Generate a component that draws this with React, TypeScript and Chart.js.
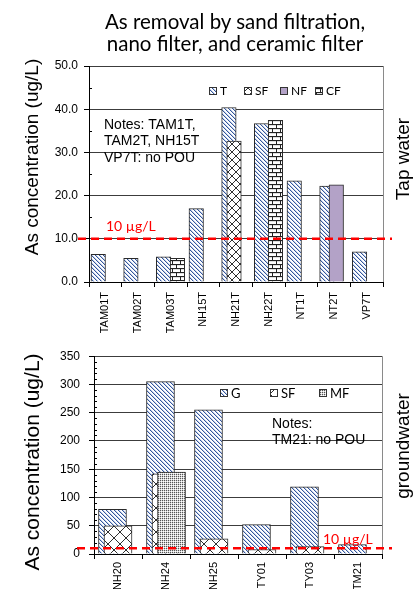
import React, { useEffect, useRef } from "react";
import { Chart, registerables } from "chart.js";

Chart.register(...registerables);

// ---------------- data ----------------
const TITLE_LINES = ["As removal by sand filtration,", "nano filter, and ceramic filter"];
const Y_TITLE = "As concentration (ug/L)";
const TAP_SIDE_LABEL = "Tap water";
const GW_SIDE_LABEL = "groundwater";

const TAP_CATEGORIES = ["TAM01T", "TAM02T", "TAM03T", "NH15T", "NH21T", "NH22T", "NT1T", "NT2T", "VP7T"];
const TAP_T = [6.4, 5.5, 5.8, 17.0, 40.4, 36.7, 23.4, 22.2, 7.0];
const TAP_SF: (number | null)[] = [null, null, null, null, 32.6, null, null, null, null];
const TAP_NF: (number | null)[] = [null, null, null, null, null, null, null, 22.5, null];
const TAP_CF: (number | null)[] = [null, null, 5.5, null, null, 37.4, null, null, null];
const TAP_Y_MAX = 50;
const TAP_Y_STEP = 10;
const TAP_NOTES = ["Notes: TAM1T,", "TAM2T, NH15T", "VP7T: no POU"];

const GW_CATEGORIES = ["NH20", "NH24", "NH25", "TY01", "TY03", "TM21"];
const GW_G = [79, 305, 255, 52, 119, 16.5];
const GW_SF: (number | null)[] = [50, 142, 27, 8, 13, null];
const GW_MF: (number | null)[] = [null, 145, null, null, null, null];
const GW_Y_MAX = 350;
const GW_Y_STEP = 50;
const GW_NOTES = ["Notes:", "TM21: no POU"];

const LIMIT_VALUE = 10;
const LIMIT_LABEL = "10 µg/L";

// ---------------- patterns ----------------
function tile(w: number, h: number, draw: (c: CanvasRenderingContext2D) => void): CanvasPattern {
  const cv = document.createElement("canvas");
  cv.width = w;
  cv.height = h;
  const c = cv.getContext("2d")!;
  draw(c);
  return c.createPattern(cv, "repeat")!;
}

function diagPattern() {
  const n = 4;
  return tile(n, n, (c) => {
    c.fillStyle = "#ffffff";
    c.fillRect(0, 0, n, n);
    for (let i = 0; i < n; i++) {
      c.fillStyle = "#36579a";
      c.fillRect(i, i, 1, 1);
      c.fillStyle = "#c2d0ec";
      c.fillRect((i + 1) % n, i, 1, 1);
    }
  });
}

function crossPattern(s: number) {
  return tile(s, s, (c) => {
    c.fillStyle = "#ffffff";
    c.fillRect(0, 0, s, s);
    c.fillStyle = "#303030";
    for (let i = 0; i < s; i++) {
      c.fillRect(i, i, 1, 1);
      c.fillRect(s - 1 - i, i, 1, 1);
    }
  });
}

function brickPattern() {
  return tile(8, 8, (c) => {
    c.fillStyle = "#ffffff";
    c.fillRect(0, 0, 8, 8);
    c.fillStyle = "#e0e0e0";
    c.fillRect(1, 1, 7, 1);
    c.fillRect(5, 5, 7, 1);
    c.fillRect(0, 5, 4, 1);
    c.fillStyle = "#222222";
    c.fillRect(0, 0, 8, 1);
    c.fillRect(0, 4, 8, 1);
    c.fillRect(0, 0, 1, 4);
    c.fillRect(4, 4, 1, 4);
  });
}

function dotPattern() {
  return tile(2, 2, (c) => {
    c.fillStyle = "#d4d4d4";
    c.fillRect(0, 0, 2, 2);
    c.fillStyle = "#555555";
    c.fillRect(0, 0, 1, 1);
    c.fillStyle = "#ffffff";
    c.fillRect(1, 1, 1, 1);
  });
}

// ---------------- plugins ----------------
const framePlugin = {
  id: "frame",
  beforeDatasetsDraw(chart: any, _a: any, o: any) {
    const { ctx, chartArea: a } = chart;
    const y = chart.scales.y;
    ctx.save();
    ctx.lineWidth = 1;
    ctx.strokeStyle = o.borderColor;
    const rx = Math.round(a.right) + 0.5;
    ctx.beginPath();
    ctx.moveTo(rx, a.top);
    ctx.lineTo(rx, a.bottom);
    ctx.stroke();
    ctx.strokeStyle = "#000";
    for (let v = o.minorStep; v < y.max; v += o.minorStep) {
      if (Math.abs(v % o.majorStep) < 1e-9) continue;
      const py = Math.round(y.getPixelForValue(v)) + 0.5;
      ctx.beginPath();
      ctx.moveTo(a.left, py);
      ctx.lineTo(a.left + o.minorLen, py);
      ctx.stroke();
    }
    ctx.restore();
  },
};

const overlayPlugin = {
  id: "overlay",
  afterDatasetsDraw(chart: any, _a: any, o: any) {
    const { ctx, chartArea: a } = chart;
    const y = chart.scales.y;
    ctx.save();
    // limit line
    const ly = y.getPixelForValue(o.limit.value);
    ctx.strokeStyle = o.limit.color;
    ctx.lineWidth = o.limit.width;
    ctx.setLineDash(o.limit.dash);
    ctx.beginPath();
    ctx.moveTo(a.left - o.limit.extendLeft, ly);
    ctx.lineTo(a.right + o.limit.extendRight, ly);
    ctx.stroke();
    ctx.setLineDash([]);
    ctx.fillStyle = o.limit.color;
    ctx.font = o.limit.font;
    ctx.textBaseline = "alphabetic";
    ctx.textAlign = "left";
    ctx.fillText(o.limit.label, a.left + o.limit.labelX, ly - o.limit.labelDy);
    // notes
    ctx.fillStyle = "#000";
    ctx.font = o.notes.font;
    o.notes.lines.forEach((t: string, i: number) => {
      ctx.fillText(t, a.left + o.notes.x, a.top + o.notes.y + i * o.notes.lineHeight);
    });
    // legend
    const L = o.legend;
    ctx.font = L.font;
    ctx.textBaseline = "middle";
    chart.data.datasets.forEach((ds: any, i: number) => {
      const bx = Math.round(a.left + L.x + i * L.gap);
      const by = Math.round(a.top + L.y - L.box / 2);
      ctx.fillStyle = ds.backgroundColor;
      ctx.fillRect(bx, by, L.box, L.box);
      ctx.strokeStyle = "#333";
      ctx.lineWidth = 1;
      ctx.strokeRect(bx + 0.5, by + 0.5, L.box - 1, L.box - 1);
      ctx.fillStyle = "#000";
      ctx.fillText(ds.label, bx + L.box + L.textGap, a.top + L.y + 0.5);
    });
    ctx.restore();
  },
};

// ---------------- chart builder ----------------
type Series = { label: string; values: (number | null)[]; fill: any; offset: number; order: number };

function points(values: (number | null)[], offset: number) {
  const out: { x: number; y: number }[] = [];
  values.forEach((v, i) => {
    if (v !== null && v !== undefined) out.push({ x: i + offset, y: v });
  });
  return out;
}

function makeChart(canvas: HTMLCanvasElement, spec: any) {
  const { categories, series, yMax, yStep, area, w, h } = spec;
  return new Chart(canvas, {
    type: "bar",
    data: {
      labels: categories,
      datasets: (series as Series[]).map((s) => ({
        label: s.label,
        data: points(s.values, s.offset) as any,
        xAxisID: "xb",
        yAxisID: "y",
        backgroundColor: s.fill,
        borderColor: "#2a2a2a",
        borderWidth: 1,
        borderSkipped: "bottom",
        barThickness: spec.barThickness,
        grouped: false,
        order: s.order,
      })),
    },
    options: {
      responsive: false,
      animation: false,
      devicePixelRatio: 1,
      layout: { padding: { left: 0, top: area.top, right: w - area.right, bottom: 0 } },
      plugins: {
        legend: { display: false },
        tooltip: { enabled: false },
        title: { display: false },
        frame: { borderColor: "#8a8a8a", minorStep: spec.minorStep, majorStep: yStep, minorLen: 3 },
        overlay: spec.overlay,
      } as any,
      scales: {
        x: {
          type: "category",
          offset: true,
          position: "bottom",
          grid: { offset: true, drawOnChartArea: false, drawTicks: true, tickLength: 5, color: "#000" },
          border: { color: "#000", width: 1 },
          ticks: {
            autoSkip: false,
            minRotation: 90,
            maxRotation: 90,
            padding: spec.xTickPad,
            color: "#000",
            font: { family: "'Liberation Sans', Arial, sans-serif", size: 11 },
          },
          afterFit: (s: any) => {
            s.height = h - area.bottom;
          },
        },
        xb: {
          type: "linear",
          display: false,
          min: -0.5,
          max: categories.length - 0.5,
          offset: false,
        },
        y: {
          type: "linear",
          min: 0,
          max: yMax,
          grid: { color: "#3c3c3c", lineWidth: 1, tickLength: 5, tickColor: "#000" },
          border: { color: "#000", width: 1 },
          ticks: {
            stepSize: yStep,
            padding: spec.yTickPad,
            color: "#000",
            font: { family: "'Liberation Sans', Arial, sans-serif", size: 12 },
            callback: spec.tickFmt,
          },
          afterFit: (s: any) => {
            s.width = area.left;
          },
        },
      } as any,
    },
    plugins: [framePlugin as any, overlayPlugin as any],
  });
}

const LIMIT_STYLE = { color: "#ff0000", width: 2.5, dash: [8, 5] };

export default function App() {
  const topRef = useRef<HTMLCanvasElement>(null);
  const botRef = useRef<HTMLCanvasElement>(null);

  useEffect(() => {
    const diag = diagPattern();
    const topSpec = {
      categories: TAP_CATEGORIES,
      series: [
        { label: "T", values: TAP_T, fill: diag, offset: -0.217, order: 4 },
        { label: "SF", values: TAP_SF, fill: crossPattern(8), offset: -0.06, order: 3 },
        { label: "NF", values: TAP_NF, fill: "#b3a2c7", offset: 0.07, order: 2 },
        { label: "CF", values: TAP_CF, fill: brickPattern(), offset: 0.207, order: 1 },
      ],
      yMax: TAP_Y_MAX,
      yStep: TAP_Y_STEP,
      minorStep: 5,
      tickFmt: (v: any) => Number(v).toFixed(1),
      barThickness: 14.5,
      w: 416,
      h: 340,
      area: { left: 89, right: 383, top: 66, bottom: 282 },
      xTickPad: 5,
      yTickPad: 6,
      overlay: {
        limit: { ...LIMIT_STYLE, value: LIMIT_VALUE, label: LIMIT_LABEL, extendLeft: 11, extendRight: 9, labelX: 17, labelDy: 8, font: "14px Lato, sans-serif" },
        notes: { lines: TAP_NOTES, x: 15, y: 62.5, lineHeight: 16.6, font: "14px 'Liberation Sans', Arial, sans-serif" },
        legend: { x: 120, y: 25, gap: 35.3, box: 8, textGap: 3, font: "12px Lato, sans-serif" },
      },
    };
    const botSpec = {
      categories: GW_CATEGORIES,
      series: [
        { label: "G", values: GW_G, fill: diag, offset: -0.115, order: 3 },
        { label: "SF", values: GW_SF, fill: crossPattern(12), offset: 0, order: 2 },
        { label: "MF", values: GW_MF, fill: dotPattern(), offset: 0.115, order: 1 },
      ],
      yMax: GW_Y_MAX,
      yStep: GW_Y_STEP,
      minorStep: 10,
      tickFmt: (v: any) => String(v),
      barThickness: 28,
      w: 416,
      h: 249,
      area: { left: 94, right: 382, top: 7, bottom: 214 },
      xTickPad: 3,
      yTickPad: 9,
      overlay: {
        limit: { ...LIMIT_STYLE, value: LIMIT_VALUE, label: LIMIT_LABEL, extendLeft: 17, extendRight: 10, labelX: 229, labelDy: 4, font: "14px Lato, sans-serif" },
        notes: { lines: GW_NOTES, x: 178, y: 71.3, lineHeight: 16, font: "14px 'Liberation Sans', Arial, sans-serif" },
        legend: { x: 126, y: 37, gap: 49.5, box: 8, textGap: 3, font: "13px Lato, sans-serif" },
      },
    };
    const c1 = makeChart(topRef.current!, topSpec);
    const c2 = makeChart(botRef.current!, botSpec);
    return () => {
      c1.destroy();
      c2.destroy();
    };
  }, []);

  const rot = (text: string, cx: number, cy: number, size: number): React.ReactNode => (
    <div
      style={{
        position: "absolute",
        left: cx - 150,
        top: cy - 14,
        width: 300,
        height: 28,
        lineHeight: "28px",
        textAlign: "center",
        whiteSpace: "nowrap",
        fontSize: size,
        fontFamily: "'Liberation Sans', Arial, sans-serif",
        color: "#000",
        transform: "rotate(-90deg)",
      }}
    >
      {text}
    </div>
  );

  return (
    <div style={{ position: "absolute", left: 0, top: 0, width: 416, height: 589, overflow: "hidden", background: "#fff" }}>
      <canvas ref={topRef} width={416} height={340} style={{ position: "absolute", left: 0, top: 0, width: 416, height: 340 }} />
      <canvas ref={botRef} width={416} height={249} style={{ position: "absolute", left: 0, top: 340, width: 416, height: 249 }} />
      <div
        style={{
          position: "absolute",
          left: 85,
          top: 10,
          width: 300,
          textAlign: "center",
          fontFamily: "Lato, sans-serif",
          fontSize: 20.5,
          lineHeight: "22px",
          color: "#000",
          whiteSpace: "nowrap",
        }}
      >
        {TITLE_LINES.map((t) => (
          <div key={t}>{t}</div>
        ))}
      </div>
      {rot(Y_TITLE, 32, 157, 19)}
      {rot(Y_TITLE, 32, 462, 21)}
      {rot(TAP_SIDE_LABEL, 403, 159, 19)}
      {rot(GW_SIDE_LABEL, 403, 446, 19)}
    </div>
  );
}
